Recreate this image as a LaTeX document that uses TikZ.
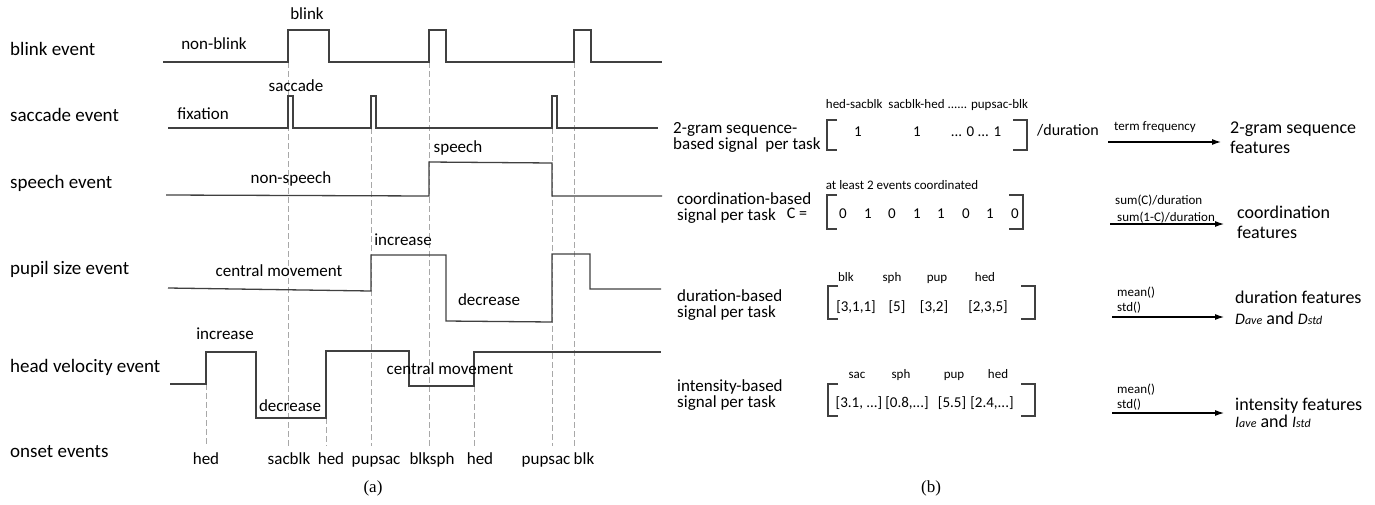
\documentclass[tikz,border=0pt]{standalone}
\usepackage{fontspec}
\setmainfont{Carlito}
\newfontfamily\capfont{Liberation Serif}
\usetikzlibrary{arrows.meta}
\definecolor{wavegray}{HTML}{404040}
\definecolor{guidegray}{HTML}{A8A8A8}

\begin{document}
\begin{tikzpicture}[x=1pt, y=-1pt,
  rowlbl/.style={font=\fontsize{19}{21}\selectfont, anchor=west, inner sep=0pt},
  siglbl/.style={font=\fontsize{17}{19}\selectfont, inner sep=0pt, text height=12pt, text depth=3.5pt},
  hdr/.style={font=\fontsize{13}{15}\selectfont, inner sep=0pt, text height=9pt, text depth=3pt},
  entry/.style={font=\fontsize{15}{17}\selectfont, inner sep=0pt, text height=11pt, text depth=3.5pt},
  desc/.style={font=\fontsize{17}{16}\selectfont, align=left, anchor=west, inner sep=0pt},
  wave/.style={draw=wavegray, line width=1.3pt},
  guide/.style={draw=guidegray, line width=0.9pt, dash pattern=on 6pt off 3pt},
  brk/.style={draw=wavegray, line width=1.2pt},
  arr/.style={draw=black, line width=1.1pt, -{Latex[length=9pt,width=6pt]}},
]
  \useasboundingbox (0,0) rectangle (1375,504);

  % (a) event signals
  \foreach \x/\y in {206/384, 288/62, 326/418, 371/128, 429/62, 474/386, 552/128, 574/62}
    \draw[guide] (\x,\y) -- (\x,446);

  \node[rowlbl] (rblink) at (10,49) {blink event};
  \node[rowlbl] (rsac) at (10,115) {saccade event};
  \node[rowlbl] (rsph) at (10,183) {speech event};
  \node[rowlbl] (rpup) at (10,269) {pupil size event};
  \node[rowlbl] (rhed) at (10,367) {head velocity event};
  \node[rowlbl] (ronset) at (10,452) {onset events};

  \draw[wave] (163,62) -- (288,62) -- (288,30) -- (329,30) -- (329,62) -- (429,62) -- (429,30) -- (446,30)
    -- (446,62) -- (574,62) -- (574,30) -- (591,30) -- (591,62) -- (662,62);
  \draw[wave] (168,128) -- (288,128) -- (288,96) -- (293,96) -- (293,128) -- (371,128) -- (371,96) -- (376,96)
    -- (376,128) -- (552,128) -- (552,96) -- (557,96) -- (557,128) -- (658,128);
  \draw[wave] (166,195) -- (429,196) -- (429,162) -- (552,163) -- (552,196) -- (662,196);
  \draw[wave] (168,288) -- (371,291) -- (371,255) -- (446,255) -- (446,321) -- (552,322) -- (552,254)
    -- (590,254) -- (590,289) -- (661,289);
  \draw[wave] (170,384) -- (206,384) -- (206,352) -- (256,352) -- (256,418) -- (326,418) -- (326,351)
    -- (409,351) -- (409,386) -- (474,386) -- (474,352) -- (661,352);

  \node[siglbl] (sblink) at (307,15) {blink};
  \node[siglbl] (snblink) at (214,45) {non-blink};
  \node[siglbl] (ssac) at (296,87) {saccade};
  \node[siglbl] (sfix) at (203,115) {fixation};
  \node[siglbl] (ssph) at (458,148) {speech};
  \node[siglbl] (snsph) at (291,179) {non-speech};
  \node[siglbl] (spinc) at (403,241) {increase};
  \node[siglbl] (spcen) at (279,272) {central movement};
  \node[siglbl] (spdec) at (489,301) {decrease};
  \node[siglbl] (shinc) at (225,335) {increase};
  \node[siglbl] (shdec) at (290,407) {decrease};
  \node[siglbl] (shcen) at (450,370) {central movement};

  \foreach \x/\t [count=\i] in {206/hed, 289/sacblk, 331/hed, 376/pupsac, 432/blksph, 480/hed, 546/pupsac, 584/blk}
    \node[siglbl] (on\i) at (\x,460) {\t};

  \node[font=\capfont\fontsize{17}{19}\selectfont, inner sep=0pt] (capa) at (373,488) {(a)};

  % (b) per-task signals and features
  \node[desc] (d1) at (673,137) {2-gram sequence-\\based signal\ \ per task};
  \node[desc] (d2) at (677,208) {coordination-based\\signal per task};
  \node[entry, font=\fontsize{16}{18}\selectfont] (ceq) at (797,215) {C =};
  \node[desc] (d3) at (677,305) {duration-based\\signal per task};
  \node[desc] (d4) at (677,395) {intensity-based\\signal per task};

  \foreach \xl/\xr/\yt/\yb in {827/1027/120/150, 827/1023/195/229, 828/1035/286/319, 828/1035/384/416}{
    \draw[brk] (\xl+10,\yt) -- (\xl,\yt) -- (\xl,\yb) -- (\xl+10,\yb);
    \draw[brk] (\xr-14,\yt) -- (\xr,\yt) -- (\xr,\yb) -- (\xr-14,\yb);}

  \node[hdr] (h1) at (927,105) {hed-sacblk\ \ sacblk-hed ...... pupsac-blk};
  \node[entry] (e11) at (858,133) {1};
  \node[entry] (e12) at (917,133) {1};
  \node[entry] (e13) at (976,133) {... 0 ... 1};
  \node[entry, font=\fontsize{16}{18}\selectfont, anchor=west] (dur) at (1037,132) {/duration};

  \node[hdr] (h2) at (902,186) {at least 2 events coordinated};
  \foreach \x/\v [count=\i] in {843/0, 868/1, 892/0, 917/1, 941/1, 966/0, 990/1, 1015/0}
    \node[entry] (c\i) at (\x,215) {\v};

  \foreach \x/\t [count=\i] in {846/blk, 892/sph, 937/pup, 985/hed}
    \node[hdr] (h3\i) at (\x,278) {\t};
  \foreach \x/\t [count=\i] in {856/{[3,1,1]}, 897/{[5]}, 934/{[3,2]}, 988/{[2,3,5]}}
    \node[entry] (e3\i) at (\x,308) {\t};

  \foreach \x/\t [count=\i] in {857/sac, 901/sph, 954/pup, 998/hed}
    \node[hdr] (h4\i) at (\x,375) {\t};
  \foreach \x/\t [count=\i] in {859/{[3.1, ...]}, 907/{[0.8,...]}, 952/{[5.5]}, 992/{[2.4,...]}}
    \node[entry] (e4\i) at (\x,404) {\t};

  \coordinate (a1s) at (1108,142); \coordinate (a1e) at (1221,142);
  \coordinate (a2s) at (1110,224); \coordinate (a2e) at (1224,224);
  \coordinate (a3s) at (1112,317); \coordinate (a3e) at (1224,317);
  \coordinate (a4s) at (1112,413); \coordinate (a4e) at (1224,413);
  \draw[arr] (a1s) -- (a1e);
  \draw[arr] (a2s) -- (a2e);
  \draw[arr] (a3s) -- (a3e);
  \draw[arr] (a4s) -- (a4e);

  \node[hdr] (tf) at (1155,127) {term frequency};
  \node[hdr, anchor=west] (sc1) at (1115,201) {sum(C)/duration};
  \node[hdr, anchor=west] (sc2) at (1117,218) {sum(1-C)/duration};
  \node[hdr, anchor=west, align=left, text height=, text depth=] (ms3) at (1117,300) {mean()\\std()};
  \node[hdr, anchor=west, align=left, text height=, text depth=] (ms4) at (1117,397) {mean()\\std()};

  \node[desc, font=\fontsize{18}{20}\selectfont] (f1) at (1230,138) {2-gram sequence\\features};
  \node[desc, font=\fontsize{18}{20}\selectfont] (f2) at (1237,222) {coordination\\features};
  \node[desc, font=\fontsize{18}{21}\selectfont] (f3) at (1235,308) {duration features\\{\fontsize{16}{16}\selectfont\textit{D}\fontsize{12}{12}\selectfont\textit{ave}} and {\fontsize{16}{16}\selectfont\textit{D}\fontsize{12}{12}\selectfont\textit{std}}};
  \node[desc, font=\fontsize{18}{17}\selectfont] (f4) at (1235,413) {intensity features\\{\fontsize{16}{16}\selectfont\textit{I}\fontsize{12}{12}\selectfont\textit{ave}} and {\fontsize{16}{16}\selectfont\textit{I}\fontsize{12}{12}\selectfont\textit{std}}};

  \node[font=\capfont\fontsize{17}{19}\selectfont, inner sep=0pt] (capb) at (931,488) {(b)};
\end{tikzpicture}
\end{document}
